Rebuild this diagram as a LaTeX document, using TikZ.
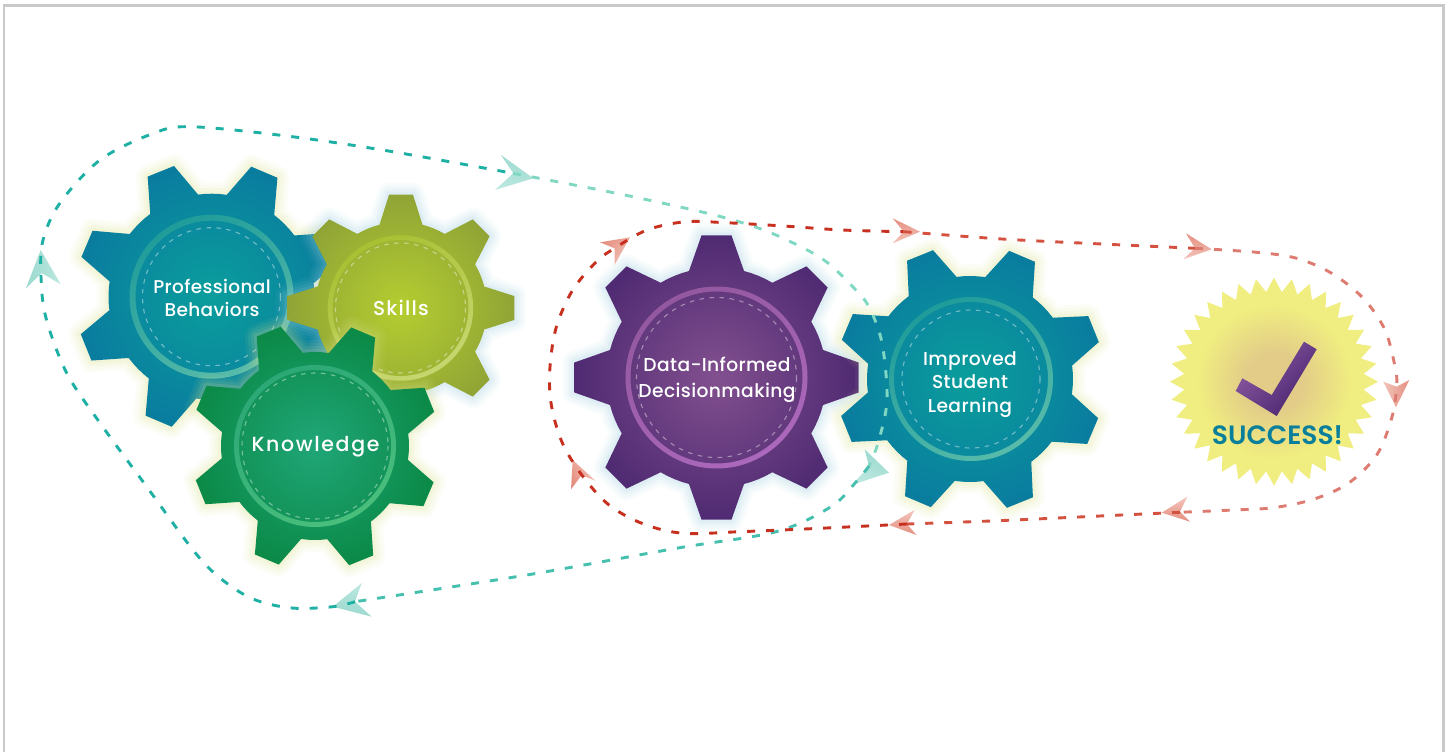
\documentclass[tikz,border=0pt]{standalone}
\usepackage{fontspec}
\setmainfont{Poppins}
\newfontfamily\gearfont{Poppins Medium}[LetterSpace=2]
\newfontfamily\gearwide{Poppins Medium}[LetterSpace=8]
\newfontfamily\skillfont{Poppins Medium}[LetterSpace=6]
\newfontfamily\succfont{Poppins SemiBold}
\definecolor{frameC}{HTML}{C9C9C9}
\definecolor{tealDark}{HTML}{1FB0A5}
\definecolor{tealMid}{HTML}{45C0AE}
\definecolor{tealLight}{HTML}{80D8C2}
\definecolor{redDark}{HTML}{C72F1E}
\definecolor{redMid}{HTML}{D4503F}
\definecolor{redLight}{HTML}{DE7B70}
\definecolor{arrTA}{HTML}{9AD9CF}
\definecolor{arrTB}{HTML}{BDE8E0}
\definecolor{arrRA}{HTML}{E58F80}
\definecolor{arrRB}{HTML}{F2C4BA}
\definecolor{glowY}{HTML}{DDE58C}
\definecolor{glowB}{HTML}{9FCFE0}
\definecolor{succC}{HTML}{0A7F9B}
\definecolor{blueEdge}{HTML}{0A7D9F}
\definecolor{blueCore}{HTML}{0A9E9C}
\definecolor{greenEdge}{HTML}{0B8A48}
\definecolor{greenCore}{HTML}{20A678}
\definecolor{oliveEdge}{HTML}{90A436}
\definecolor{oliveCore}{HTML}{B4CE30}
\definecolor{purpEdge}{HTML}{4F2A72}
\definecolor{purpCore}{HTML}{82508F}
\definecolor{blueRingA}{HTML}{1F9C9A}
\definecolor{blueRingB}{HTML}{58BBAA}
\definecolor{greenRingA}{HTML}{2CA877}
\definecolor{greenRingB}{HTML}{4ABF7C}
\definecolor{oliveRingA}{HTML}{A8C032}
\definecolor{oliveRingB}{HTML}{C6D670}
\definecolor{purpRingA}{HTML}{93589F}
\definecolor{purpRingB}{HTML}{AC68BC}
\definecolor{starEdge}{HTML}{F0EE80}
\definecolor{starCore}{HTML}{E2CC88}
\definecolor{checkA}{HTML}{8F5CA4}
\definecolor{checkB}{HTML}{47246E}
\pgfdeclareradialshading{sealglow}{\pgfpoint{0bp}{0bp}}{color(0bp)=(starCore); color(8bp)=(starCore); color(22bp)=(starEdge); color(50bp)=(starEdge)}
\tikzset{
  x=1pt,y=-1pt,
  loopline/.style={line width=2.9pt,dash pattern=on 8pt off 11pt,line cap=butt},
  gearlabel/.style={text=white,align=center,inner sep=0pt},
}
% outline of an eight-toothed gear: tip radius, root radius, phase
\newcommand{\gearoutline}[3]{({#3-6}:#1)
  \foreach \k [evaluate=\k as \a using #3+45*\k] in {0,...,7}
  {-- ({\a-6}:#1) -- ({\a+6}:#1) -- ({\a+14.5}:#2) -- ({\a+18.5}:#2) -- ({\a+22.5}:#2) -- ({\a+26.5}:#2) -- ({\a+30.5}:#2)} -- cycle}
% \gearbody{cx}{cy}{R}{r}{phase}{edge}{centre}{glow}
\newcommand{\gearbody}[8]{
  \begin{scope}[shift={(#1,#2)}]
    \foreach \w/\o in {24/.06,18/.08,12/.10,6/.13}
      \draw[#8,opacity=\o,line width=\w pt,line join=round] \gearoutline{#3}{#4}{#5};
    \shade[inner color=#7,outer color=#6] \gearoutline{#3}{#4}{#5};
  \end{scope}}
% \gearring{cx}{cy}{outer}{inner}{dash radius}{colA}{colB}
\newcommand{\gearring}[7]{
  \begin{scope}[shift={(#1,#2)}]
    \shade[even odd rule,left color=#6,right color=#7,shading angle=30] (0,0) circle (#3) (0,0) circle (#4);
    \draw[white,opacity=.42,line width=1.1pt,dash pattern=on 4.5pt off 5.5pt] (0,0) circle (#5);
  \end{scope}}
% \arrowhd{tip}{wing}{notch}{wing}{colA}{colB}{angle}
\newcommand{\arrowhd}[7]{\shade[left color=#5,right color=#6,shading angle=#7] #1 -- #2 -- #3 -- #4 -- cycle;}
\begin{document}
\begin{tikzpicture}
\useasboundingbox (0,0) rectangle (1452,752);
\fill[white] (0,0) rectangle (1452,752);
\draw[frameC,line width=2.6pt] (4,752) -- (4,5.6) -- (1443.6,5.6) -- (1443.6,752);

% gears
\gearbody{211.5}{296.7}{136}{103}{23}{blueEdge}{blueCore}{glowY}
\gearring{211.5}{296.7}{82}{76}{69}{blueRingA}{blueRingB}
\node[gearlabel,font=\gearfont\fontsize{18.5}{23.5}\selectfont] (prof) at (212,298) {Professional\\Behaviors};

\gearbody{401}{308}{114}{86}{0}{oliveEdge}{oliveCore}{glowB}
\gearring{400.5}{308}{72.7}{68}{65}{oliveRingA}{oliveRingB}
\node[gearlabel,font=\skillfont\fontsize{20}{24}\selectfont] (skills) at (401,308) {Skills};

\gearbody{315}{446}{124}{94}{23}{greenEdge}{greenCore}{glowY}
\gearring{315}{446}{81}{76}{73}{greenRingA}{greenRingB}
\node[gearlabel,font=\gearwide\fontsize{20.5}{24}\selectfont] (know) at (315.5,446.5) {Knowledge};

\gearbody{716.5}{377.5}{143}{110}{0}{purpEdge}{purpCore}{glowB}
\gearring{716.5}{377.5}{91}{86}{80}{purpRingA}{purpRingB}
\node[gearlabel,font=\gearfont\fontsize{18.7}{26}\selectfont] (data) at (717,379.5) {Data-Informed\\Decisionmaking};

\gearbody{970}{379}{134}{103}{23}{blueEdge}{blueCore}{glowY}
\gearring{971}{379}{82}{77}{69}{blueRingA}{blueRingB}
\node[gearlabel,font=\gearfont\fontsize{18.7}{23.5}\selectfont] (impr) at (970,384.5) {Improved\\Student\\Learning};

% success seal
\fill[starEdge] (1274,381.7) +(-90:104) coordinate (stt)
  \foreach \k in {0,...,35} {-- +({-90+10*\k}:104) -- +({-85+10*\k}:90)} -- cycle;
\shade[shading=sealglow] (1274,381.7) circle (88);
\shade[left color=checkA,right color=checkB,shading angle=45]
  (1242.3,378.3) -- (1235.7,391) -- (1276.7,416) -- (1316.7,349.3) -- (1304,341.7) -- (1271.7,395) -- cycle;
\node[text=succC,inner sep=0pt,font=\succfont\fontsize{26.5}{30}\selectfont] (succ) at (1277.5,435) {SUCCESS!};

% arrowheads
\arrowhd{(40.7,250)}{(26,288.3)}{(41.7,273)}{(60.7,284.3)}{arrTA}{arrTB}{90}
\arrowhd{(533.3,178.3)}{(501,155)}{(513.3,173.3)}{(495,190)}{arrTA}{arrTB}{-14}
\arrowhd{(889,472.7)}{(864.7,449.3)}{(869,466.7)}{(851.6,485)}{arrTA}{arrTB}{-17}
\arrowhd{(333,606.7)}{(361.7,583)}{(355,601.7)}{(371.7,616.7)}{arrTA}{arrTB}{167}
\arrowhd{(630,237.3)}{(600,242.3)}{(614.5,248.3)}{(614.5,265)}{arrRA}{arrRB}{48}
\arrowhd{(920,231.7)}{(892.7,218.3)}{(903.6,231.7)}{(892.7,243.3)}{arrRA}{arrRB}{0}
\arrowhd{(1211.7,249.3)}{(1186,233.3)}{(1195,248.3)}{(1183.3,259.3)}{arrRA}{arrRB}{-3}
\arrowhd{(1396,407.3)}{(1383.3,381.7)}{(1396.7,386.7)}{(1409.3,380)}{arrRA}{arrRB}{-90}
\arrowhd{(1161.7,512.7)}{(1187.3,496.7)}{(1180,511.7)}{(1190,521.7)}{arrRA}{arrRB}{178}
\arrowhd{(889,525)}{(914.5,510)}{(907,524)}{(916.4,535)}{arrRA}{arrRB}{178}
\arrowhd{(572.7,460)}{(571,489.3)}{(581.8,475)}{(595.3,480.7)}{arrRA}{arrRB}{120}

% teal loop
\draw[loopline,tealLight] plot[smooth,tension=.55] coordinates {(513,173.3) (600,190) (656,201.7) (714.5,215) (754.5,226.7) (787,240) (824,260) (853,287) (869,307) (882,343) (887,400) (878,443) (869,466)};
\draw[loopline,tealMid] plot[smooth,tension=.55] coordinates {(869,466) (856,482) (831,506.7) (776,531.7) (678,548) (526.7,575) (355,601.7)};
\draw[loopline,tealDark] plot[smooth,tension=.55] coordinates {(355,601.7) (333,606.7) (291.7,608) (253,599) (220,578) (193,550) (146.7,486.7) (100,423) (66.7,373) (46,318) (41,276.7) (43,240) (60,203) (100,160) (151.7,134) (190,126.7) (286.7,136) (386.7,150.7) (513,173.3)};

% red loop
\draw[loopline,redDark] plot[smooth,tension=.55] coordinates {(907,524) (820,528.3) (740,531.7) (683.6,533.3) (643.6,524) (609,505) (581.8,475) (561.8,441.7) (551,403) (550,366.7) (556.4,326.7) (572.7,290) (596.4,261.7) (614.5,248.3) (647,230) (685.5,221.7) (725.5,222.7) (783.6,226) (841.8,230) (903.6,231.7)};
\draw[loopline,redMid] plot[smooth,tension=.55] coordinates {(903.6,231.7) (1001.8,239) (1101.8,244) (1195,248.3)};
\draw[loopline,redLight] plot[smooth,tension=.55] coordinates {(1195,248.3) (1256.7,252.3) (1296.7,258.3) (1331.7,273.3) (1363.3,298.3) (1385,330) (1395,366.7) (1396.7,386.7) (1391.7,418) (1376.7,455) (1348.3,483.3) (1313.3,499.3) (1273.3,507.7) (1233.3,510) (1180,512.3)};
\draw[loopline,redMid] plot[smooth,tension=.55] coordinates {(1180,512.3) (1100,516) (998,520.7) (907,524)};
\end{tikzpicture}
\end{document}
